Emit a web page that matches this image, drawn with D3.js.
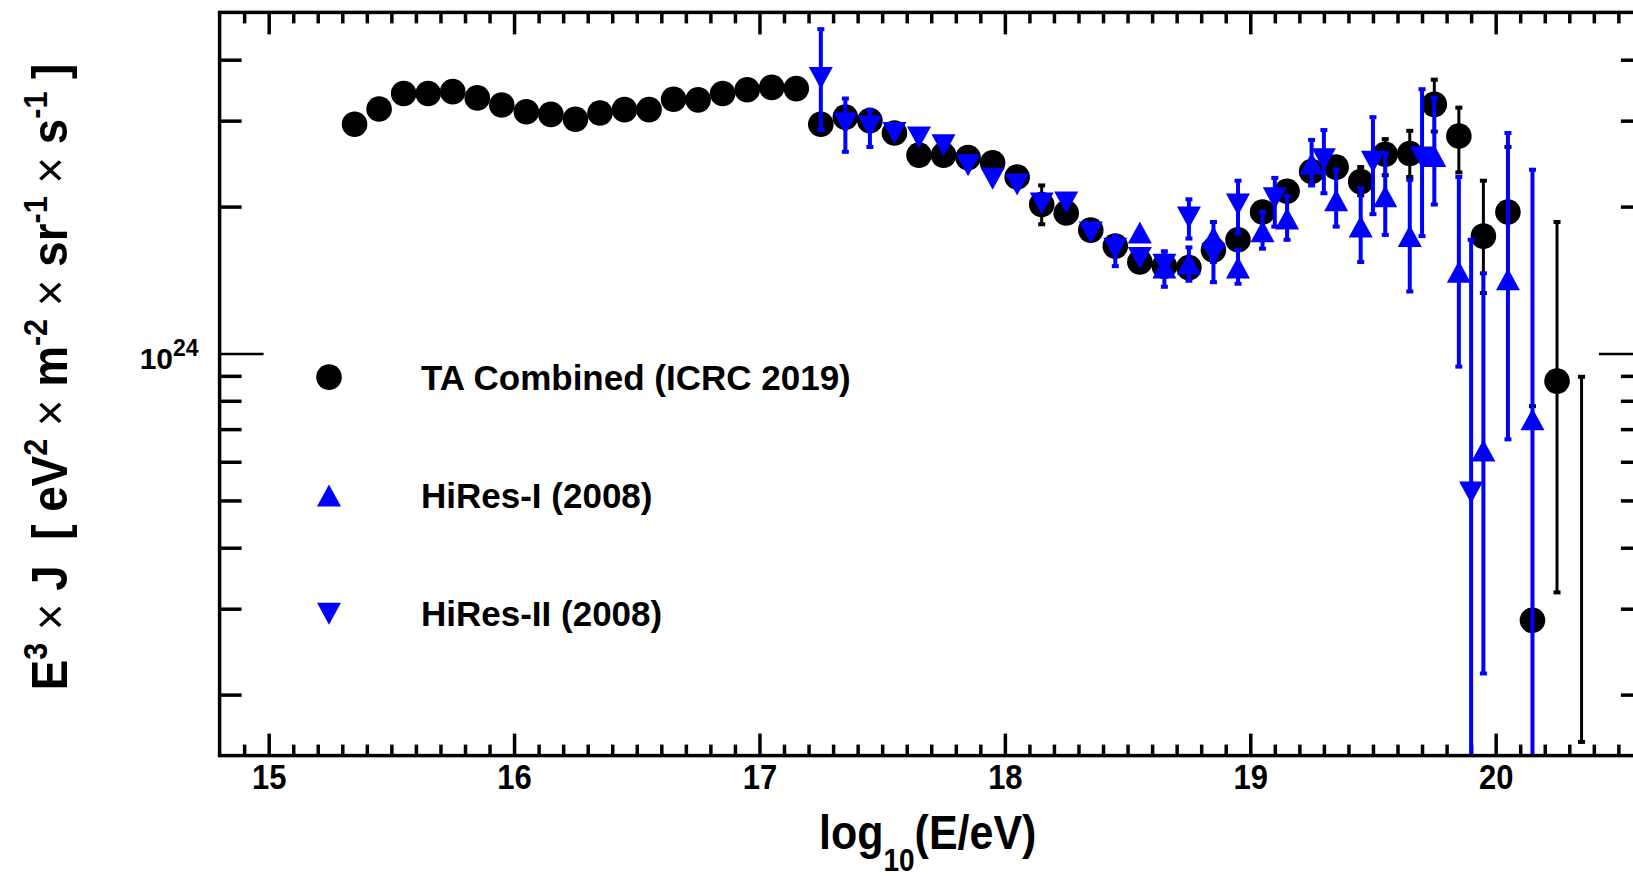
<!DOCTYPE html>
<html><head><meta charset="utf-8">
<script src="https://cdn.jsdelivr.net/npm/d3@7/dist/d3.min.js"></script>
<style>
body{margin:0;background:#fff}
svg text{font-family:"Liberation Sans",Arial,Helvetica,sans-serif;font-weight:bold;fill:#000}
</style></head><body>
<svg id="c" width="1633" height="876"></svg>
<script>
// ---------- data (E^3 J in units of 10^24 eV^2 m^-2 sr^-1 s^-1) ----------
const taX  = [15.35,15.45,15.55,15.65,15.75,15.85,15.95,16.05,16.15,16.25,16.35,16.45,16.55,16.65,16.75,16.85,16.95,17.05,17.15,
              17.25,17.35,17.45,17.55,17.65,17.75,17.85,17.95,18.05,18.15,18.25,18.35,18.45,18.55,18.65,18.75,18.85,18.95,
              19.05,19.15,19.25,19.35,19.45,19.55,19.65,19.75,19.85,19.95,20.05,20.15,20.25,20.35];
const taY  = [2.95,3.17,3.41,3.41,3.44,3.34,3.23,3.13,3.09,3.02,3.11,3.16,3.16,3.32,3.31,3.41,3.47,3.51,3.49,
              2.95,3.05,3.00,2.83,2.55,2.55,2.52,2.46,2.30,2.02,1.94,1.79,1.66,1.54,1.51,1.50,1.63,1.71,
              1.95,2.15,2.36,2.41,2.25,2.56,2.57,3.24,2.79,1.74,1.95,0.284,0.878,null];
const taLo = [null,null,null,null,null,null,null,null,null,null,null,null,null,null,null,null,null,null,null,
              null,null,null,null,null,null,null,null,null,1.84,null,null,null,null,null,null,null,null,
              null,null,null,null,2.11,2.32,2.30,2.85,2.35,1.33,1.38,0.05,0.324,0.160];
const taHi = [null,null,null,null,null,null,null,null,null,null,null,null,null,null,null,null,null,null,null,
              null,null,null,null,null,null,null,null,null,2.21,null,null,null,null,null,null,null,null,
              null,null,null,null,2.41,2.75,2.86,3.64,3.19,2.26,2.65,0.78,1.86,0.896];

const h1X  = [18.55,18.65,18.75,18.85,18.95,19.05,19.15,19.25,19.35,19.45,19.55,19.65,19.75,19.85,19.95,20.05,20.15];
const h1Y  = [1.77,1.50,1.53,1.73,1.50,1.78,1.89,2.45,2.06,1.82,2.10,1.74,2.54,1.47,0.633,1.42,0.733];
const h1Lo = [null,1.37,1.41,1.54,1.39,1.64,1.71,2.21,1.82,1.54,1.75,1.34,2.02,0.94,0.221,0.667,0.05];
const h1Hi = [null,1.62,1.65,1.86,1.63,1.95,2.10,2.74,2.38,2.18,2.57,2.27,3.34,2.30,1.46,2.83,2.38];

const h2X  = [17.25,17.35,17.45,17.55,17.65,17.75,17.85,17.95,18.05,18.15,18.25,18.35,18.45,18.55,18.65,18.75,18.85,18.95,
              19.1,19.3,19.5,19.7,19.9];
const h2Y  = [3.67,2.96,2.92,2.83,2.77,2.67,2.43,2.28,2.22,2.03,2.04,1.77,1.64,1.57,1.52,1.90,1.60,2.02,
              2.08,2.50,2.47,2.52,0.519];
const h2Lo = [2.87,2.59,2.65,null,null,null,null,null,null,null,null,null,1.51,null,null,1.72,1.40,1.76,
              1.82,2.13,1.93,1.74,0.05];
const h2Hi = [4.62,3.33,3.16,null,null,null,null,null,null,null,null,null,1.74,null,null,2.07,1.71,2.26,
              2.29,2.87,3.05,3.48,1.71];

const xMajor = [15,16,17,18,19,20];
const xMinor = d3.range(149,207).map(v => v/10).filter(v => Math.abs(v - Math.round(v)) > 1e-6);
const yMajor = [1];
const yMinor = [0.2,0.3,0.4,0.5,0.6,0.7,0.8,0.9,2,3,4];

const legendItems = [
  {label:"TA Combined (ICRC 2019)", marker:"circle", color:"#000000"},
  {label:"HiRes-I (2008)", marker:"up", color:"#0000ff"},
  {label:"HiRes-II (2008)", marker:"down", color:"#0000ff"}
];

// ---------- chart ----------
const svg = d3.select("#c");
const x = d3.scaleLinear().domain([14.8, 20.6]).range([219.6, 1642.9]);
const y = d3.scaleLog().domain([0.15, 5]).range([755.6, 12.4]);
const [X0, X1] = x.range();
const [Y0, Y1] = y.range();

svg.append("defs").append("clipPath").attr("id","clip")
  .append("rect").attr("x",X0).attr("y",Y1).attr("width",X1-X0).attr("height",Y0-Y1);

function tidy(g, w){
  g.select(".domain").remove();
  g.selectAll(".tick line").attr("stroke","#000").attr("stroke-width",w);
}
// bottom
svg.append("g").attr("transform",`translate(0,${Y0})`)
  .call(d3.axisBottom(x).tickValues(xMinor).tickSize(-11).tickSizeOuter(0).tickFormat(""))
  .call(g=>tidy(g,3.5));
const gb = svg.append("g").attr("transform",`translate(0,${Y0})`)
  .call(d3.axisBottom(x).tickValues(xMajor).tickSize(-22).tickSizeOuter(0).tickFormat(d3.format("d")))
  .call(g=>tidy(g,3.5));
gb.selectAll(".tick text").attr("y",30.2).attr("dy",null).attr("transform","scale(1,1.12)")
  .attr("font-size",31).attr("font-family",null).attr("fill","#000");
// top
svg.append("g").attr("transform",`translate(0,${Y1})`)
  .call(d3.axisTop(x).tickValues(xMinor).tickSize(-11).tickSizeOuter(0).tickFormat(""))
  .call(g=>tidy(g,3.5));
svg.append("g").attr("transform",`translate(0,${Y1})`)
  .call(d3.axisTop(x).tickValues(xMajor).tickSize(-22).tickSizeOuter(0).tickFormat(""))
  .call(g=>tidy(g,3.5));
// left
svg.append("g").attr("transform",`translate(${X0},0)`)
  .call(d3.axisLeft(y).tickValues(yMinor).tickSize(-22).tickSizeOuter(0).tickFormat(""))
  .call(g=>tidy(g,3.5));
const gl = svg.append("g").attr("transform",`translate(${X0},0)`)
  .call(d3.axisLeft(y).tickValues(yMajor).tickSize(-44).tickSizeOuter(0).tickFormat(""))
  .call(g=>tidy(g,2.5));
gl.selectAll(".tick text").each(function(){
  const t = d3.select(this).attr("x",-21).attr("dy",null).attr("y",14.5)
    .attr("font-family",null).attr("fill","#000").attr("text-anchor","end");
  t.append("tspan").attr("font-size",30).text("10");
  t.append("tspan").attr("font-size",23).attr("dy",-13).text("24");
});
// right
svg.append("g").attr("transform",`translate(${X1},0)`)
  .call(d3.axisRight(y).tickValues(yMinor).tickSize(-22).tickSizeOuter(0).tickFormat(""))
  .call(g=>tidy(g,3.5));
svg.append("g").attr("transform",`translate(${X1},0)`)
  .call(d3.axisRight(y).tickValues(yMajor).tickSize(-44).tickSizeOuter(0).tickFormat(""))
  .call(g=>tidy(g,2.5));

// markers
const markerPath = {
  circle: d3.symbol().type(d3.symbolCircle).size(Math.PI*12.8*12.8)(),
  up: "M-12,11L12,11L0,-11Z",
  down: "M-12,-11L12,-11L0,11Z"
};

function drawSeries(xs, ys, los, his, color, barW, marker){
  const g = svg.append("g").attr("clip-path","url(#clip)");
  const err = d3.range(xs.length).filter(i => los[i] != null);
  g.selectAll("line.e").data(err).join("line").attr("class","e")
    .attr("x1",i=>x(xs[i])).attr("x2",i=>x(xs[i]))
    .attr("y1",i=>y(los[i])).attr("y2",i=>y(his[i]))
    .attr("stroke",color).attr("stroke-width",barW);
  const caps = err.flatMap(i => [[xs[i],los[i]],[xs[i],his[i]]]);
  g.selectAll("rect.c").data(caps).join("rect").attr("class","c")
    .attr("x",d=>x(d[0])-3.5).attr("y",d=>y(d[1])-2).attr("width",7).attr("height",4)
    .attr("fill",color);
  const pts = d3.range(xs.length).filter(i => ys[i] != null);
  g.selectAll("path.m").data(pts).join("path").attr("class","m")
    .attr("d",markerPath[marker])
    .attr("transform",i=>`translate(${x(xs[i])},${y(ys[i])})`)
    .attr("fill",color);
}
drawSeries(taX, taY, taLo, taHi, "#000000", 3, "circle");
drawSeries(h1X, h1Y, h1Lo, h1Hi, "#0000ff", 4, "up");
drawSeries(h2X, h2Y, h2Lo, h2Hi, "#0000ff", 4, "down");

// frame
svg.append("rect").attr("x",X0).attr("y",Y1).attr("width",X1-X0).attr("height",Y0-Y1)
  .attr("fill","none").attr("stroke","#000").attr("stroke-width",3.5);

// legend
const leg = svg.append("g");
const legRows = d3.scaleBand().domain(d3.range(legendItems.length)).range([318,673]);
legendItems.forEach((d,i)=>{
  const cy = legRows(i) + legRows.bandwidth()/2;
  leg.append("path").attr("d",markerPath[d.marker]).attr("fill",d.color)
     .attr("transform",`translate(329,${cy})`);
  leg.append("text").attr("x",421).attr("y",cy+12.5).attr("font-size",35).text(d.label);
});

// axis titles
const xt = svg.append("text").attr("transform","translate(819,849) scale(1,1.1)").attr("font-size",43);
xt.append("tspan").text("log");
xt.append("tspan").attr("font-size",28).attr("dy",20).text("10");
xt.append("tspan").attr("dy",-20).text("(E/eV)");

const yt = svg.append("text").attr("transform","translate(67,377) rotate(-90) scale(1.09,1.2)")
  .attr("text-anchor","middle").attr("font-size",42);
const parts = [["E",0],["3",1],[" × ",2],["J",0],["  [ eV",0],["2",1],[" × ",2],["m",0],["-2",1],
               [" × ",2],["sr",0],["-1",1],[" × ",2],["s",0],["-1",1],[" ]",0]];
let up = false;
parts.forEach(([s,k])=>{
  const ts = yt.append("tspan").text(s);
  if(k===1){ ts.attr("font-size",28).attr("dy", up ? 0 : -17); up = true; }
  else { if(up){ ts.attr("dy",17); up=false; } if(k===2) ts.attr("font-weight","normal"); }
});
yt.style("white-space","pre");
</script>
</body></html>
